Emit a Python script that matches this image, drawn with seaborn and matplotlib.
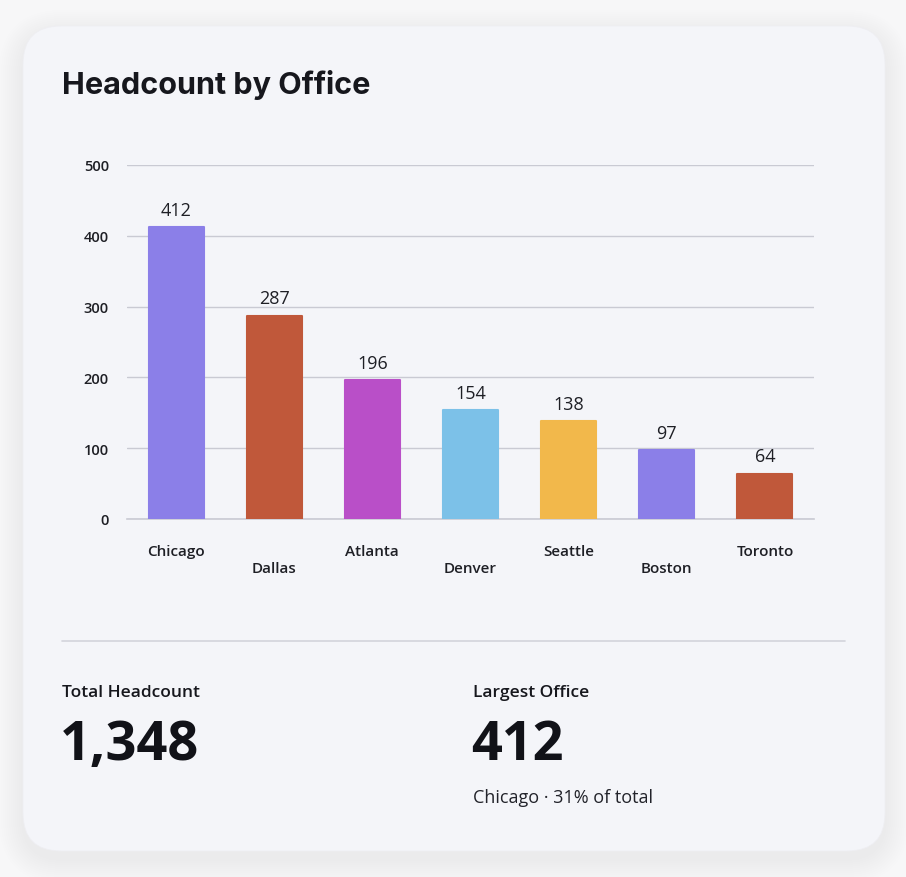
import matplotlib
matplotlib.use("Agg")
import matplotlib.pyplot as plt
import seaborn as sns
import pandas as pd
from matplotlib.patches import FancyBboxPatch

offices = ["Chicago", "Dallas", "Atlanta", "Denver", "Seattle", "Boston", "Toronto"]
headcount = [412, 287, 196, 154, 138, 97, 64]
colors = ["#8b7fe8", "#c0583a", "#b94fc8", "#7cc1e8", "#f2b84b", "#8b7fe8", "#c0583a"]
yticks = [0, 100, 200, 300, 400, 500]

sns.set_theme(style="white")
plt.rcParams["font.family"] = ["Open Sans", "DejaVu Sans"]

W, H = 906, 878
fig = plt.figure(figsize=(W / 100, H / 100), dpi=100, facecolor="#f7f7f8")

# card with soft shadow
bg = fig.add_axes([0, 0, 1, 1])
bg.set_xlim(0, W); bg.set_ylim(H, 0); bg.axis("off")
for i in range(12):
    g = 24 - i * 2
    bg.add_patch(FancyBboxPatch((23 - g, 27 - g + 8), 862 + 2 * g, 825 + 2 * g,
                                boxstyle=f"round,pad=0,rounding_size={40 + g}",
                                fc="black", ec="none", alpha=0.005))
bg.add_patch(FancyBboxPatch((23, 27), 862, 825, boxstyle="round,pad=0,rounding_size=38",
                            fc="#f4f5f9", ec="#eeeef2", lw=0.6))

bg.text(62, 85, "Headcount by Office", fontsize=22, fontweight="bold",
        family=["Inter", "DejaVu Sans"], color="#16171d", va="center", ha="left")
bg.plot([62, 845], [642, 642], color="#d3d4dc", lw=1.2)

total = sum(headcount)
imax = headcount.index(max(headcount))
bg.text(62, 693, "Total Headcount", fontsize=12.5, fontweight="semibold", color="#16171d", va="center")
bg.text(60, 746, f"{total:,}", fontsize=39, fontweight="bold", color="#111218", va="center")
bg.text(473, 693, "Largest Office", fontsize=12.5, fontweight="semibold", color="#16171d", va="center")
bg.text(471, 746, f"{headcount[imax]}", fontsize=39, fontweight="bold", color="#111218", va="center")
bg.text(473, 798, f"{offices[imax]} · {round(100 * headcount[imax] / total)}% of total",
        fontsize=13, color="#22232a", va="center")

# chart axes
x0, x1, ytop, ybot = 127, 814, 166, 520
ax = fig.add_axes([x0 / W, 1 - ybot / H, (x1 - x0) / W, (ybot - ytop) / H])
ax.set_facecolor("none")
df = pd.DataFrame({"office": offices, "count": headcount})
sns.barplot(data=df, x="office", y="count", hue="office", palette=colors, legend=False,
            width=0.56, ax=ax, saturation=1, zorder=3)
for p, c in zip(ax.patches, colors):
    p.set_edgecolor(c); p.set_linewidth(1.5); p.set_joinstyle("round")
ax.set_ylim(0, 500)
ax.set_xlim(-0.5, len(offices) - 0.5)
ax.set_yticks(yticks)
ax.yaxis.grid(True, color="#c9cad3", lw=1, zorder=0)
ax.set_axisbelow(True)
for s in ["top", "right", "left"]:
    ax.spines[s].set_visible(False)
ax.spines["bottom"].set_color("#c9cad3")
ax.spines["bottom"].set_linewidth(1.2)
ax.set_xlabel(""); ax.set_ylabel("")
ax.tick_params(axis="y", length=0, pad=13, labelsize=10.5, labelcolor="#1e1f25")
ax.tick_params(axis="x", length=8, width=1, color="#c9cad3", pad=10, labelsize=11, labelcolor="#1e1f25")
ax.set_xticks(range(len(offices)))
ax.set_xticklabels(offices)
for lab in ax.get_yticklabels():
    lab.set_fontweight("semibold")
for i, lab in enumerate(ax.get_xticklabels()):
    lab.set_fontweight("semibold")
    if i % 2 == 1:
        lab.set_y(-0.047)
for i, v in enumerate(headcount):
    ax.annotate(str(v), (i, v), xytext=(0, 6), textcoords="offset points",
                ha="center", va="bottom", fontsize=13, color="#1e1f25")

fig.savefig("out.png", dpi=100, facecolor=fig.get_facecolor())
